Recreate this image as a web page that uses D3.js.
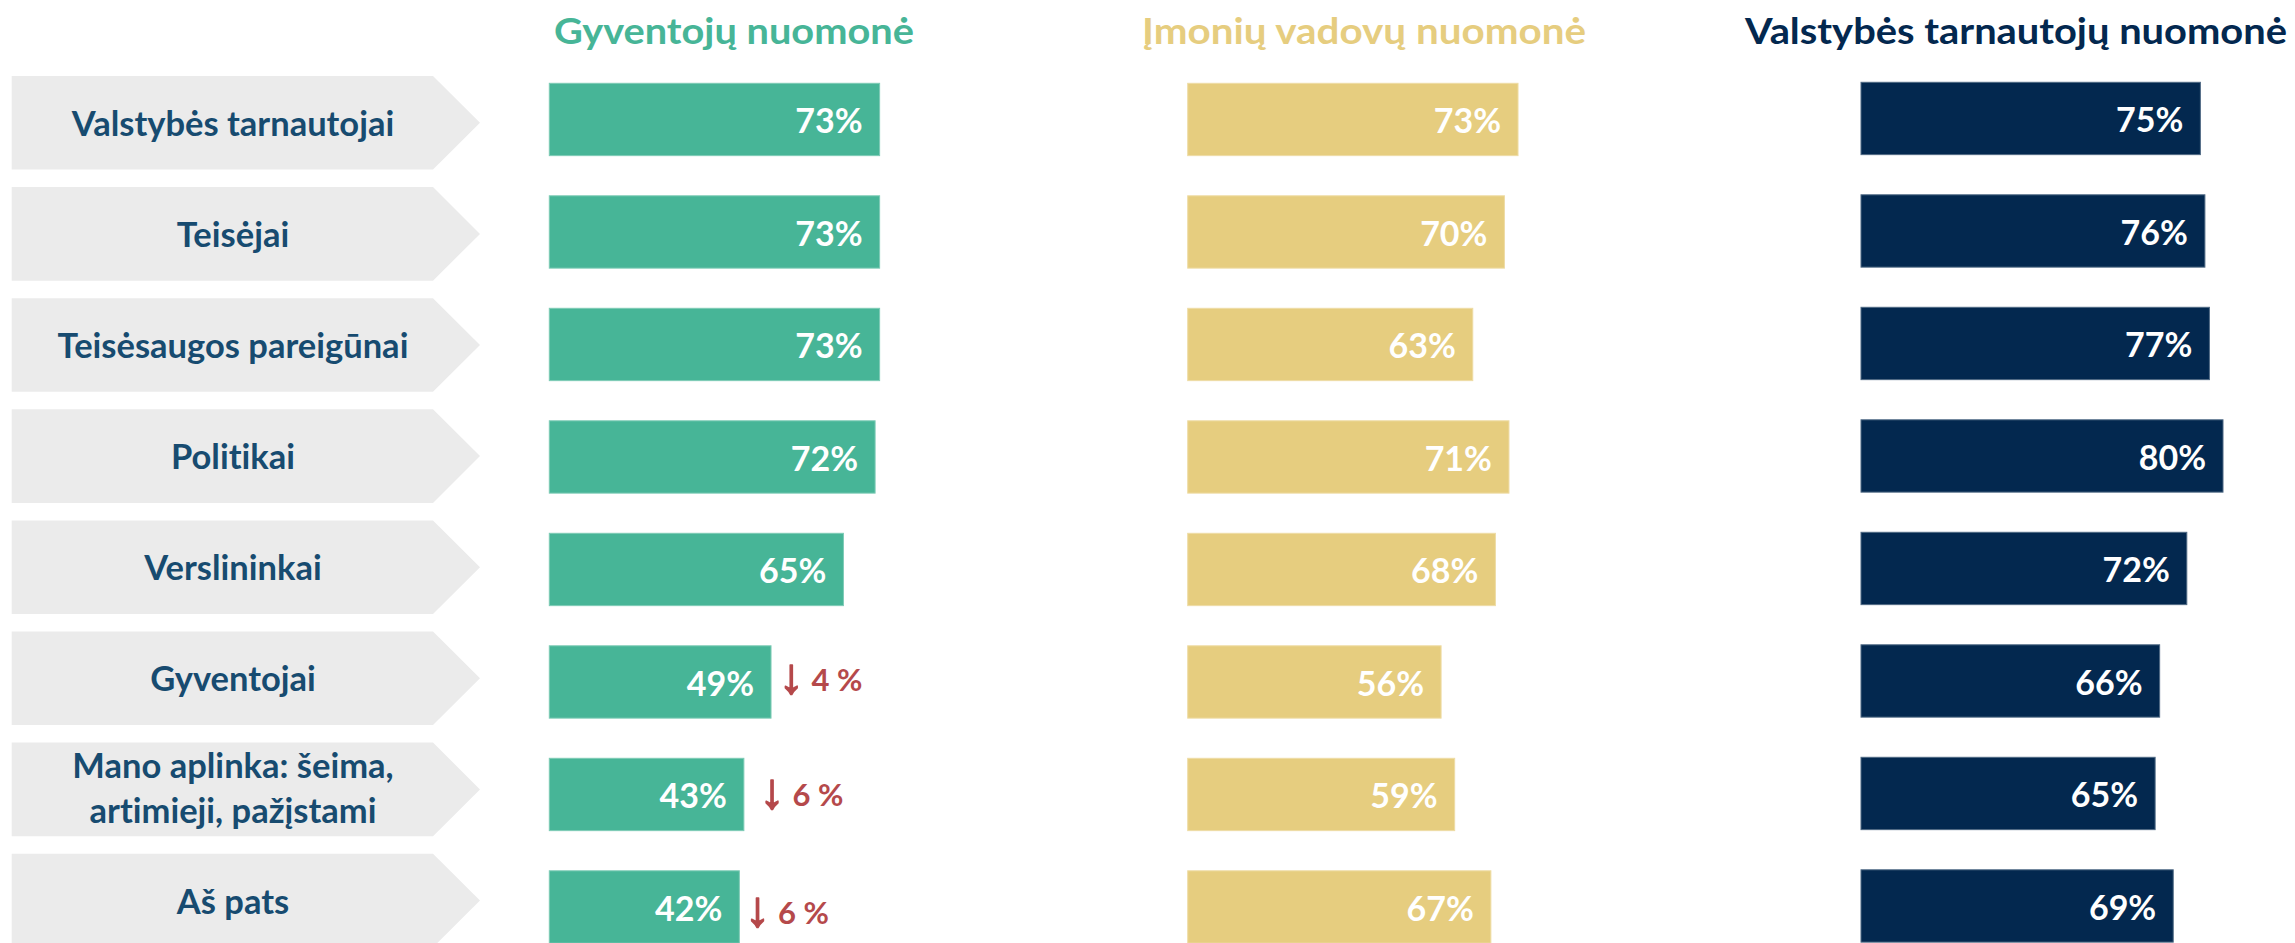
<!DOCTYPE html>
<html>
<head>
<meta charset="utf-8">
<script src="https://cdn.jsdelivr.net/npm/d3@7/dist/d3.min.js"></script>
<style>
  html, body { margin: 0; padding: 0; background: #ffffff; overflow: hidden; }
  svg { display: block; }
  text { font-variant-ligatures: none; font-feature-settings: "liga" 0, "clig" 0; }
</style>
</head>
<body>
<svg id="chart"></svg>
<script>
// ---- Data -------------------------------------------------------------
const categories = [
  "Valstybės tarnautojai",
  "Teisėjai",
  "Teisėsaugos pareigūnai",
  "Politikai",
  "Verslininkai",
  "Gyventojai",
  "Mano aplinka: šeima,\nartimieji, pažįstami",
  "Aš pats"
];
const seriesNames = ["Gyventojų nuomonė", "Įmonių vadovų nuomonė", "Valstybės tarnautojų nuomonė"];
const residentsOpinion = [73, 73, 73, 72, 65, 49, 43, 42];
const managersOpinion  = [73, 70, 63, 71, 68, 56, 59, 67];
const officialsOpinion = [75, 76, 77, 80, 72, 66, 65, 69];
// change versus previous survey (residents only), in percentage points
const residentsChange  = [null, null, null, null, null, -4, -6, -6];

// ---- Layout -----------------------------------------------------------
const W = 2295, H = 943;
const FONT = "Lato, 'Open Sans', 'Noto Sans', sans-serif";
const labelFill = "#EBEBEB", labelInk = "#174B70", changeInk = "#B5494B";

const columns = [
  { values: residentsOpinion, color: "#47B597", x0: 549.3,  titleX: 554,  titleW: 360, dy: 0,  change: residentsChange },
  { values: managersOpinion,  color: "#E6CD7F", x0: 1187.7, titleX: 1142, titleW: 444, dy: 0,  change: null },
  { values: officialsOpinion, color: "#03284F", x0: 1861,   titleX: 1745, titleW: 542, dy: -1, change: null }
];
// hand placement of the change notes next to their bars
const changeNudge = [null, null, null, null, null, { dx: 8, dy: 9 }, { dx: 16, dy: 11.5 }, { dx: 6, dy: 17 }];

const n = categories.length;
const idx = d3.range(n);

const x = d3.scaleLinear().domain([0, 100]).range([0, 452.5]);

const barPad = 0.357, barStep = 112.5, barTop = 83.3;
const yBar = d3.scaleBand().domain(idx)
  .range([barTop, barTop + barStep * (n - barPad)])
  .paddingInner(barPad).paddingOuter(0);

const labPad = 0.1575, labStep = 111.1, labTop = 76;
const yLab = d3.scaleBand().domain(idx)
  .range([labTop, labTop + labStep * (n - labPad)])
  .paddingInner(labPad).paddingOuter(0);

const svg = d3.select("#chart").attr("width", W).attr("height", H)
  .style("font-family", FONT);

svg.append("rect").attr("width", W).attr("height", H).attr("fill", "#fff");

// ---- Category tags (arrow-shaped) ------------------------------------
const tagLeft = 11.7, tagRight = 433, tagTip = 480, tagTextX = 233;
const tags = svg.append("g").selectAll("g").data(idx).join("g");

tags.append("path")
  .attr("fill", labelFill)
  .attr("d", i => {
    const t = yLab(i), b = t + yLab.bandwidth(), m = (t + b) / 2;
    return `M${tagLeft},${t}H${tagRight}L${tagTip},${m}L${tagRight},${b}H${tagLeft}Z`;
  });

tags.append("text")
  .attr("x", tagTextX)
  .attr("text-anchor", "middle")
  .attr("fill", labelInk)
  .attr("font-weight", 700)
  .attr("font-size", 34.5)
  .each(function (i) {
    const lines = categories[i].split("\n");
    const c = yLab(i) + yLab.bandwidth() / 2;
    const t = d3.select(this);
    if (lines.length === 1) {
      t.append("tspan").attr("x", tagTextX).attr("y", c + 13).text(lines[0]);
    } else {
      t.append("tspan").attr("x", tagTextX).attr("y", c - 11.7).text(lines[0]);
      t.append("tspan").attr("x", tagTextX).attr("y", c + 33.3).text(lines[1]);
    }
  });

// ---- Columns of bars --------------------------------------------------
columns.forEach((col, ci) => {
  const g = svg.append("g").attr("transform", `translate(${col.x0},${col.dy})`);

  svg.append("text")
    .attr("x", col.titleX).attr("y", 44.3)
    .attr("fill", col.color)
    .attr("font-weight", 700)
    .attr("font-size", 37)
    .attr("textLength", col.titleW)
    .attr("lengthAdjust", "spacingAndGlyphs")
    .text(seriesNames[ci]);

  const edge = d3.interpolateRgb(col.color, "#ffffff")(0.3);

  g.selectAll("rect").data(col.values).join("rect")
    .attr("x", x(0))
    .attr("y", (d, i) => yBar(i))
    .attr("width", d => x(d) - x(0))
    .attr("height", yBar.bandwidth())
    .attr("fill", col.color)
    .attr("stroke", edge)
    .attr("stroke-width", 1);

  g.selectAll("text.val").data(col.values).join("text")
    .attr("class", "val")
    .attr("x", d => x(d) - 17)
    .attr("y", (d, i) => yBar(i) + yBar.bandwidth() / 2 + 13.8)
    .attr("text-anchor", "end")
    .attr("fill", "#ffffff")
    .attr("font-weight", 700)
    .attr("font-size", 34)
    .text(d => d + "%");

  if (col.change) {
    const notes = g.selectAll("text.chg")
      .data(idx.filter(i => col.change[i] != null))
      .join("text")
      .attr("class", "chg")
      .attr("x", i => x(col.values[i]) + changeNudge[i].dx)
      .attr("y", i => yBar(i) + yBar.bandwidth() / 2 + changeNudge[i].dy)
      .attr("fill", changeInk)
      .attr("font-weight", 700)
      .attr("font-size", 31);
    notes.append("tspan")
      .attr("font-family", "'Liberation Sans', 'DejaVu Sans', sans-serif")
      .attr("font-size", 50)
      .attr("dy", 2)
      .attr("stroke", changeInk)
      .attr("stroke-width", 1.6)
      .attr("stroke-linejoin", "round")
      .text(i => col.change[i] < 0 ? "↓" : "↑");
    notes.append("tspan")
      .attr("dy", -2)
      .text(i => " " + Math.abs(col.change[i]) + " %");
  }
});
</script>
</body>
</html>
